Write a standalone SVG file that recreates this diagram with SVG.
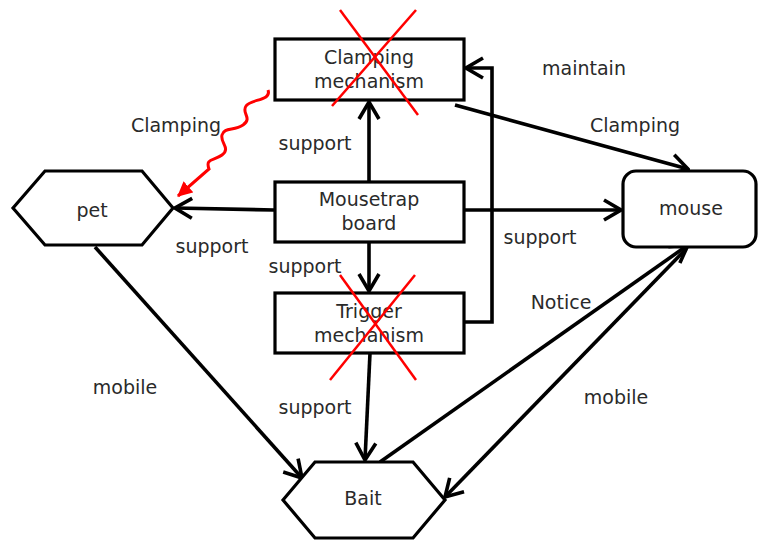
<svg xmlns="http://www.w3.org/2000/svg" width="758" height="541" viewBox="0 0 758 541">
<style>
.n{fill:#fff;stroke:#000;stroke-width:3.2}
.t{font-family:"DejaVu Sans","Noto Sans",sans-serif;font-size:19px;fill:#2a2a2a;text-anchor:middle;dominant-baseline:central}
.c{fill:none;stroke:#000;stroke-width:3.6;marker-end:url(#ah)}
.x{stroke:#ff0000;stroke-width:2.5;fill:none}
</style>
<defs>
<marker id="ah" viewBox="0 0 22 24" refX="20" refY="12" markerWidth="22" markerHeight="24" markerUnits="userSpaceOnUse" orient="auto">
<path d="M3,2 L20,12 L3,22" fill="none" stroke="#000" stroke-width="3.6"/>
</marker>
<marker id="rah" viewBox="0 0 14 14" refX="13" refY="7" markerWidth="15" markerHeight="15" markerUnits="userSpaceOnUse" orient="auto">
<path d="M0,0 L14,7 L0,14 Z" fill="#ff0000"/>
</marker>
</defs>
<rect width="758" height="541" fill="#fff"/>
<g id="connectors">
<line class="c" x1="369" y1="182" x2="369" y2="102"/>
<line class="c" x1="274" y1="210" x2="175" y2="208"/>
<line class="c" x1="464" y1="210" x2="621" y2="210"/>
<line class="c" x1="369" y1="242" x2="369" y2="291"/>
<polyline class="c" points="464,322 492,322 492,68 466,68"/>
<line class="c" x1="455" y1="105" x2="688" y2="169"/>
<line class="c" x1="370" y1="353" x2="365" y2="460"/>
<line class="c" x1="95" y1="247" x2="302" y2="478"/>
<line class="c" x1="380" y1="462" x2="688" y2="245"/>
<line class="c" x1="686" y1="249" x2="445" y2="497"/>
<path d="M268,90 C272,101 250,99 246,106 C241,113 253,118 243,125 C234,131 224,127 222,135 C220,143 231,148 222,155 C214,161 205,158 209,169 L178,196" fill="none" stroke="#ff0000" stroke-width="3" marker-end="url(#rah)"/>
</g>
<g id="clamping-mechanism">
<rect class="n" x="275" y="39" width="189" height="61"/>
<text class="t" x="369" y="57">Clamping<tspan x="369" dy="24">mechanism</tspan></text>
<line class="x" x1="340" y1="10" x2="418" y2="115"/>
<line class="x" x1="416" y1="10" x2="332" y2="106"/>
</g>
<g id="mousetrap-board">
<rect class="n" x="275" y="182" width="189" height="60"/>
<text class="t" x="369" y="199">Mousetrap<tspan x="369" dy="24">board</tspan></text>
</g>
<g id="trigger-mechanism">
<rect class="n" x="275" y="293" width="189" height="60"/>
<text class="t" x="369" y="311">Trigger<tspan x="369" dy="24">mechanism</tspan></text>
<line class="x" x1="340" y1="275" x2="416" y2="380"/>
<line class="x" x1="415" y1="275" x2="330" y2="380"/>
</g>
<g id="pet">
<polygon class="n" points="13,208 45,171 142,171 173,208 142,245 45,245"/>
<text class="t" x="92" y="210">pet</text>
</g>
<g id="mouse">
<rect class="n" x="623" y="171" width="133" height="76" rx="13"/>
<text class="t" x="691" y="208">mouse</text>
</g>
<g id="bait">
<polygon class="n" points="283,500 315,462 413,462 445,500 413,538 315,538"/>
<text class="t" x="363" y="498">Bait</text>
</g>
<g id="labels">
<text class="t" x="584" y="68">maintain</text>
<text class="t" x="635" y="125">Clamping</text>
<text class="t" x="176" y="125">Clamping</text>
<text class="t" x="315" y="143">support</text>
<text class="t" x="212" y="246">support</text>
<text class="t" x="540" y="237">support</text>
<text class="t" x="305" y="266">support</text>
<text class="t" x="315" y="407">support</text>
<text class="t" x="561" y="302">Notice</text>
<text class="t" x="616" y="397">mobile</text>
<text class="t" x="125" y="387">mobile</text>
</g>
</svg>
